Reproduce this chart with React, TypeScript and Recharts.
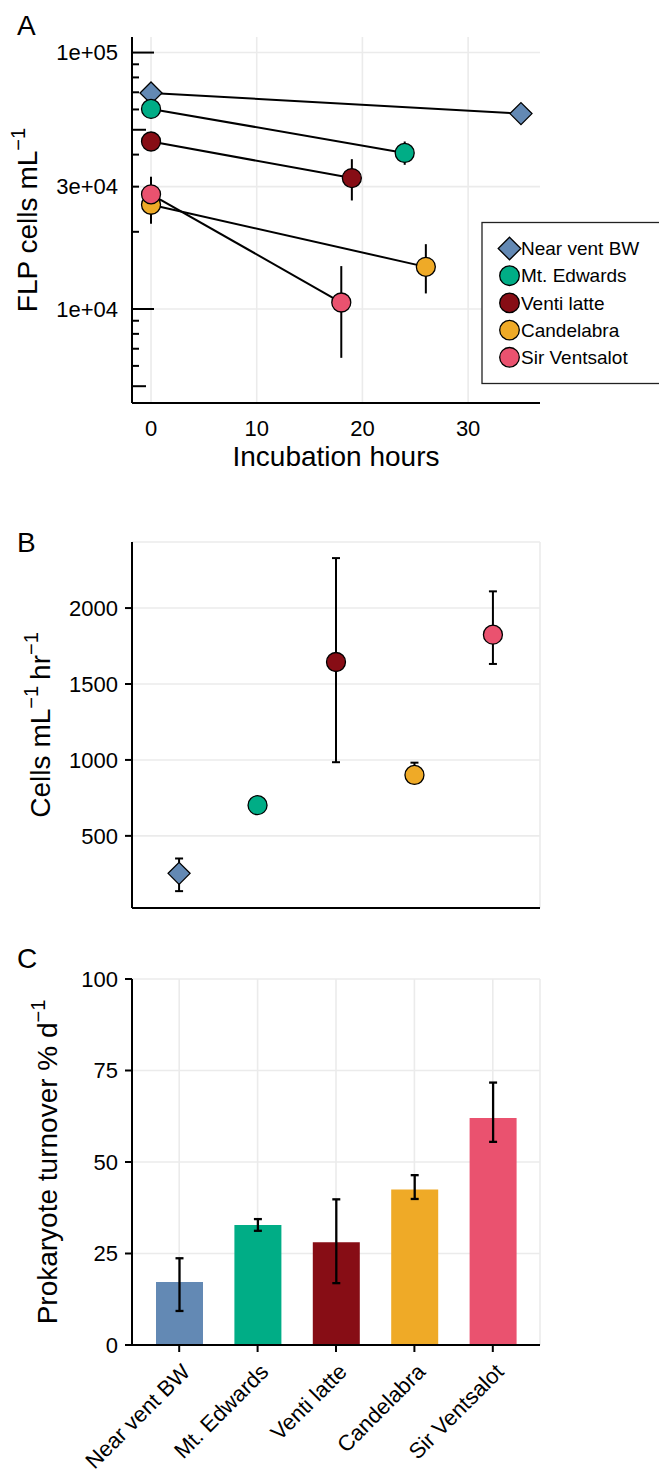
import React from "react";
import {
  ComposedChart,
  BarChart,
  Bar,
  Line,
  Scatter,
  XAxis,
  YAxis,
  CartesianGrid,
  ErrorBar,
  Cell,
  Customized,
} from "recharts";

const FONT = '"Liberation Sans", Arial, Helvetica, sans-serif';
const GRID = "#ebebeb";
const AXIS = { stroke: "#000", strokeWidth: 2 };
const TICK = { stroke: "#000", strokeWidth: 2 };

// sites and colours, shared by the three panels
const sites = ["Near vent BW", "Mt. Edwards", "Venti latte", "Candelabra", "Sir Ventsalot"];
const siteColors = ["#6389b4", "#00ad86", "#870d15", "#efaa27", "#ea526f"];
const sitePos = [1, 2, 3, 4, 5];

// A: FLP cells mL-1, start and end of incubation
const startHour = [0, 0, 0, 0, 0];
const endHour = [35, 24, 19, 26, 18];
const startCells = [69600, 60300, 45000, 25500, 28000];
const startLow = [69600, 60300, 45000, 21500, 28000];
const startHigh = [69600, 60300, 45000, 32800, 28000];
const endCells = [57800, 40600, 32400, 14600, 10600];
const endLow = [57800, 36500, 26500, 11500, 6450];
const endHigh = [57800, 45000, 38400, 17900, 14700];
const hourTicks = [0, 10, 20, 30];
const cellTicks = [5000, 6000, 7000, 8000, 9000, 10000, 20000, 30000, 40000, 50000, 60000, 70000, 80000, 90000, 100000];
const cellLabels = [10000, 30000, 100000];

// B: cells mL-1 hr-1
const rate = [253, 702, 1645, 901, 1825];
const rateLow = [136, 702, 985, 850, 1632];
const rateHigh = [351, 702, 2329, 982, 2110];
const rateTicks = [500, 1000, 1500, 2000];

// C: prokaryote turnover % d-1
const turnover = [17.2, 32.8, 28.1, 42.5, 62.0];
const turnoverLow = [9.3, 31.2, 16.9, 39.9, 55.5];
const turnoverHigh = [23.7, 34.4, 39.8, 46.4, 71.7];
const turnoverTicks = [0, 25, 50, 75, 100];

const seriesA = sites.map((site, i) => ({
  site,
  points: [
    { hour: startHour[i], cells: startCells[i], err: [startCells[i] - startLow[i], startHigh[i] - startCells[i]] },
    { hour: endHour[i], cells: endCells[i], err: [endCells[i] - endLow[i], endHigh[i] - endCells[i]] },
  ],
}));

const tableB = sites.map((site, i) => ({
  site,
  pos: sitePos[i],
  rate: rate[i],
  rateErr: [rate[i] - rateLow[i], rateHigh[i] - rate[i]],
}));

const tableC = sites.map((site, i) => ({
  site,
  turnover: turnover[i],
  turnoverErr: [turnover[i] - turnoverLow[i], turnoverHigh[i] - turnover[i]],
}));

function Marker({ cx, cy, i, r = 9.5 }: any) {
  if (cx == null || cy == null) return <g />;
  if (i === 0) {
    const s = r + 1.5;
    return (
      <path
        d={`M${cx},${cy - s}L${cx + s},${cy}L${cx},${cy + s}L${cx - s},${cy}Z`}
        fill={siteColors[0]}
        stroke="#000"
        strokeWidth={1.3}
      />
    );
  }
  return <circle cx={cx} cy={cy} r={r} fill={siteColors[i]} stroke="#000" strokeWidth={1.3} />;
}

// log axis: labels on 1e4/3e4/1e5, annotation ticks drawn inside the panel
function LogTick(props: any) {
  const { x, y, payload } = props;
  const v = payload.value;
  const axisX = x + 14;
  const lead = Math.round(v / Math.pow(10, Math.floor(Math.log10(v) + 1e-9)));
  const len = lead === 1 ? 22 : lead === 5 ? 14 : 7;
  const label = cellLabels.includes(v) ? v.toExponential().replace(/e\+(\d)$/, "e+0$1") : null;
  return (
    <g>
      <line x1={axisX} x2={axisX + len} y1={y} y2={y} stroke="#000" strokeWidth={2} />
      {label && (
        <text x={x} y={y} dy="0.35em" textAnchor="end" fontSize={22} fontFamily={FONT} fill="#000">
          {label}
        </text>
      )}
    </g>
  );
}

const yTick = (p: any) => (
  <text x={p.x} y={p.y} dy="0.35em" textAnchor="end" fontSize={22} fontFamily={FONT} fill="#000">
    {p.payload.value}
  </text>
);

const xTick = (p: any) => (
  <text x={p.x} y={p.y} dy="0.71em" textAnchor="middle" fontSize={22} fontFamily={FONT} fill="#000">
    {p.payload.value}
  </text>
);

const siteTick = (p: any) => {
  const x = p.x + 1;
  const y = p.y;
  return (
    <text
      x={x}
      y={y}
      dy="0.72em"
      textAnchor="end"
      transform={`rotate(-45 ${x} ${y})`}
      fontSize={22}
      fontFamily={FONT}
      fill="#000"
    >
      {p.payload.value}
    </text>
  );
};

const DecorA = () => (
  <g fontFamily={FONT} fill="#000">
    <text x={17} y={35} fontSize={28}>A</text>
    <text x={336} y={466} fontSize={28} textAnchor="middle">Incubation hours</text>
    <text x={37} y={220} transform="rotate(-90 37 220)" fontSize={28} textAnchor="middle">
      FLP cells
      <tspan dx={8}>mL</tspan>
      <tspan dy={-12} fontSize={20}>−1</tspan>
    </text>
    <rect x={482} y={222.5} width={200} height={161} fill="#fff" stroke="#222" strokeWidth={1.3} />
    {sites.map((s, i) => {
      const cy = 248.5 + i * 27.2;
      return (
        <g key={s}>
          <Marker cx={509.5} cy={cy} i={i} r={9.8} />
          <text x={521} y={cy} dy="0.35em" fontSize={19}>{s}</text>
        </g>
      );
    })}
  </g>
);

const DecorB = () => (
  <g fontFamily={FONT} fill="#000">
    <text x={17} y={52} fontSize={28}>B</text>
    <text x={50} y={225} transform="rotate(-90 50 225)" fontSize={28} textAnchor="middle">
      Cells
      <tspan dx={8}>mL</tspan>
      <tspan dy={-12} fontSize={20}>−1</tspan>
      <tspan dy={12} dx={6}>hr</tspan>
      <tspan dy={-12} fontSize={20}>−1</tspan>
    </text>
  </g>
);

const DecorC = () => (
  <g fontFamily={FONT} fill="#000">
    <text x={17} y={28} fontSize={28}>C</text>
    <text x={57} y={222} transform="rotate(-90 57 222)" fontSize={28} textAnchor="middle">
      Prokaryote turnover % d
      <tspan dy={-12} fontSize={20}>−1</tspan>
    </text>
  </g>
);

function PanelA() {
  return (
    <ComposedChart width={659} height={480} margin={{ top: 37, right: 119, bottom: 0, left: 0 }}>
      <CartesianGrid stroke={GRID} strokeWidth={1.6} horizontalValues={cellLabels} verticalValues={hourTicks} />
      <XAxis
        type="number"
        dataKey="hour"
        domain={[-1.8, 36.8]}
        allowDataOverflow
        ticks={hourTicks}
        interval={0}
        height={77}
        axisLine={AXIS}
        tickLine={false}
        tickSize={7}
        tickMargin={10}
        tick={xTick}
      />
      <YAxis
        type="number"
        scale="log"
        domain={[4300, 115000]}
        allowDataOverflow
        ticks={cellTicks}
        interval={0}
        width={132}
        axisLine={AXIS}
        tickLine={false}
        tickSize={7}
        tickMargin={7}
        tick={(p: any) => <LogTick {...p} />}
      />
      {seriesA.map((s, i) => (
        <Line
          key={s.site}
          data={s.points}
          dataKey="cells"
          name={s.site}
          stroke="#000"
          strokeWidth={2}
          isAnimationActive={false}
          activeDot={false}
          dot={(p: any) => <Marker key={`${s.site}-${p.index}`} cx={p.cx} cy={p.cy} i={i} />}
        >
          <ErrorBar dataKey="err" direction="y" width={0} stroke="#000" strokeWidth={2} />
        </Line>
      ))}
      <Customized component={DecorA} />
    </ComposedChart>
  );
}

function PanelB() {
  return (
    <ComposedChart width={659} height={430} data={tableB} margin={{ top: 42, right: 119, bottom: 0, left: 0 }}>
      <CartesianGrid stroke={GRID} strokeWidth={1.6} />
      <XAxis
        type="number"
        dataKey="pos"
        domain={[0.4, 5.6]}
        ticks={sitePos}
        interval={0}
        height={22}
        axisLine={AXIS}
        tickLine={TICK}
        tickSize={7}
        tick={false}
      />
      <YAxis
        type="number"
        domain={[25, 2435]}
        ticks={rateTicks}
        interval={0}
        width={132}
        axisLine={AXIS}
        tickLine={TICK}
        tickSize={7}
        tickMargin={7}
        tick={yTick}
      />
      <Scatter
        dataKey="rate"
        isAnimationActive={false}
        shape={(p: any) => <Marker cx={p.cx} cy={p.cy} i={p.payload.pos - 1} />}
      >
        <ErrorBar dataKey="rateErr" direction="y" width={4} stroke="#000" strokeWidth={2} />
      </Scatter>
      <Customized component={DecorB} />
    </ComposedChart>
  );
}

function PanelC() {
  return (
    <BarChart width={659} height={529} data={tableC} margin={{ top: 39, right: 119, bottom: 0, left: 0 }}>
      <CartesianGrid stroke={GRID} strokeWidth={1.6} />
      <XAxis
        dataKey="site"
        type="category"
        padding={{ left: 8, right: 8 }}
        height={124}
        interval={0}
        axisLine={AXIS}
        tickLine={TICK}
        tickSize={7}
        tickMargin={10}
        tick={siteTick}
      />
      <YAxis
        type="number"
        domain={[0, 100]}
        ticks={turnoverTicks}
        interval={0}
        width={132}
        axisLine={AXIS}
        tickLine={TICK}
        tickSize={7}
        tickMargin={7}
        tick={yTick}
      />
      <Bar dataKey="turnover" barSize={47} isAnimationActive={false}>
        {tableC.map((d, i) => (
          <Cell key={d.site} fill={siteColors[i]} />
        ))}
        <ErrorBar dataKey="turnoverErr" direction="y" width={4} stroke="#000" strokeWidth={2.3} />
      </Bar>
      <Customized component={DecorC} />
    </BarChart>
  );
}

export default function App() {
  return (
    <div style={{ position: "absolute", left: 0, top: 0, width: 659, height: 1469, background: "#fff" }}>
      <div style={{ position: "absolute", left: 0, top: 0 }}>
        <PanelA />
      </div>
      <div style={{ position: "absolute", left: 0, top: 500 }}>
        <PanelB />
      </div>
      <div style={{ position: "absolute", left: 0, top: 940 }}>
        <PanelC />
      </div>
    </div>
  );
}
